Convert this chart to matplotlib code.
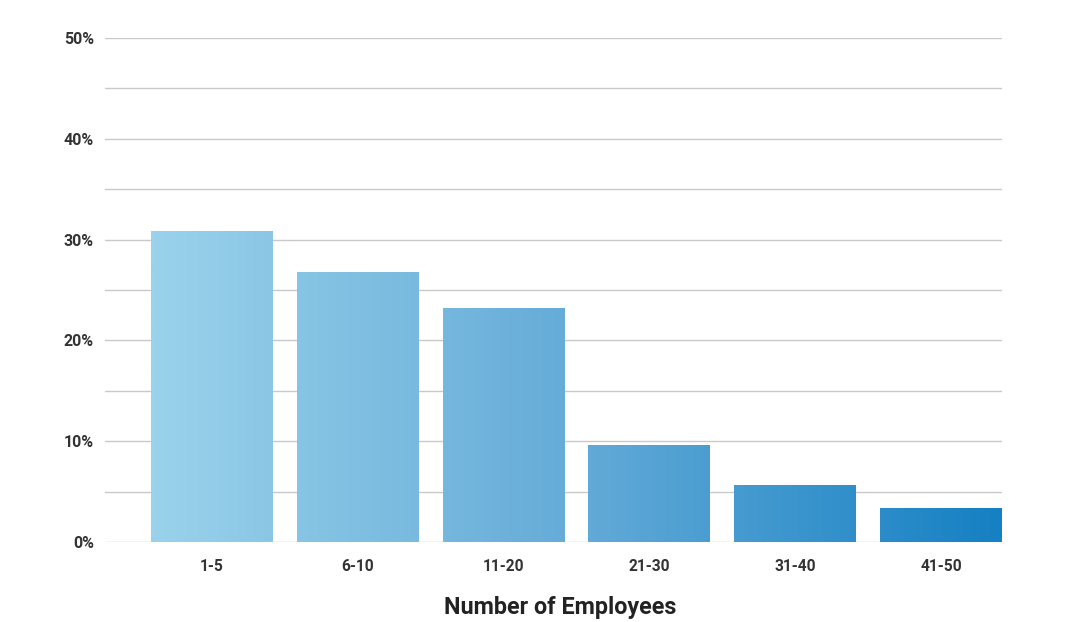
import numpy as np
import matplotlib
matplotlib.use("Agg")
import matplotlib.pyplot as plt
from matplotlib.colors import LinearSegmentedColormap, Normalize

# data
CATEGORIES = ["1-5", "6-10", "11-20", "21-30", "31-40", "41-50"]
PERCENT = [30.8, 26.7, 23.2, 9.6, 5.6, 3.3]
Y_TICKS = [0, 10, 20, 30, 40, 50]

plt.rcParams['font.family'] = ['Roboto', 'DejaVu Sans']

fig = plt.figure(figsize=(10.7, 6.22), dpi=100)
ax = fig.add_axes([105/1070, 80/622, 897/1070, 504/622])

x = np.arange(len(CATEGORIES))
width = 0.836
bars = ax.bar(x, PERCENT, width=width, color="none", zorder=3)

# gradient across the whole chart, light left -> dark right
cmap = LinearSegmentedColormap.from_list("blues", ["#9ad2eb", "#64abd8", "#1580c3"])
x_start = x[0] - width / 2
x_end = x[-1] + width / 2
norm = Normalize(x_start, x_end)
for b in bars:
    x0, w, h = b.get_x(), b.get_width(), b.get_height()
    xs = np.linspace(x0, x0 + w, 64)
    grad = norm(xs)[np.newaxis, :]
    ax.imshow(grad, cmap=cmap, vmin=0, vmax=1, extent=[x0, x0 + w, 0, h],
              aspect="auto", origin="lower", zorder=3, interpolation="bilinear")

ax.set_xlim(-0.733, x_end)
ax.set_ylim(0, 50)

# gridlines every 5%
for yv in np.arange(0, 51, 5):
    ax.axhline(yv, color="#c9c9c9", linewidth=1.0, zorder=1)

ax.set_yticks(Y_TICKS)
ax.set_yticklabels([f"{v}%" for v in Y_TICKS], fontsize=11.5, fontweight="bold", color="#333333")
ax.set_xticks(x)
ax.set_xticklabels(CATEGORIES, fontsize=11.2, fontweight="bold", color="#333333")
ax.tick_params(axis="both", length=0)
ax.tick_params(axis="y", pad=8)
ax.tick_params(axis="x", pad=12)
for s in ax.spines.values():
    s.set_visible(False)

ax.set_xlabel("Number of Employees", fontsize=16.8, fontweight="bold", color="#222222")
ax.xaxis.set_label_coords(0.508, -0.107)

fig.savefig("out.png", dpi=100)
